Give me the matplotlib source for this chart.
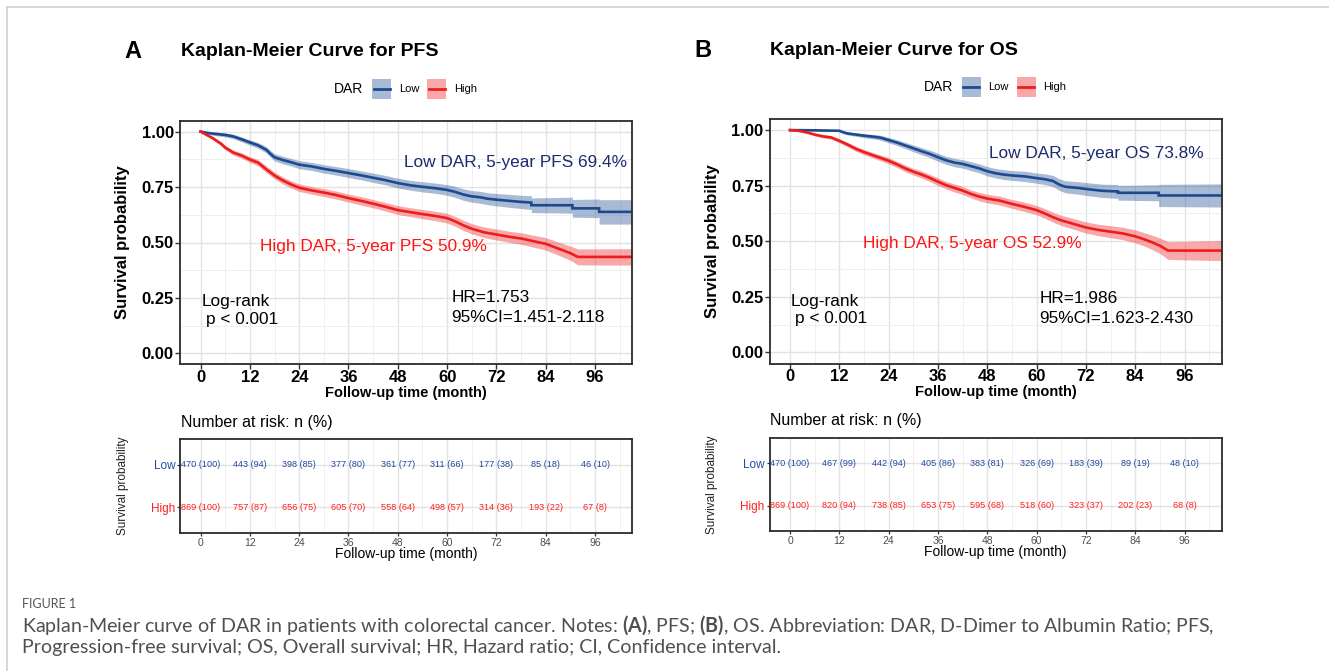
import numpy as np
import matplotlib
matplotlib.use("Agg")
import matplotlib.pyplot as plt
from matplotlib.patches import Rectangle

plt.rcParams['font.family'] = ['Liberation Sans', 'DejaVu Sans']
plt.rcParams['mathtext.fontset'] = 'custom'
plt.rcParams['mathtext.rm'] = 'Lato'
plt.rcParams['mathtext.bf'] = 'Lato:bold'

# ---------------- data ----------------
groups = ['Low', 'High']
x_ticks = [0, 12, 24, 36, 48, 60, 72, 84, 96]
x_tick_labels = ['0', '12', '24', '36', '48', '60', '72', '84', '96']
y_ticks = [0.0, 0.25, 0.5, 0.75, 1.0]
y_tick_labels = ['0.00', '0.25', '0.50', '0.75', '1.00']

pfs_low_t = [0, 2, 4, 6, 8, 10, 12, 14, 16, 17, 18, 20, 22, 24, 27, 30, 33, 36, 39, 42, 45, 48,
             51, 54, 57, 60, 62, 64, 66, 68, 70, 72, 75, 78, 80.5, 80.5, 90.5, 90.5, 97, 97, 105]
pfs_low_s = [1.000, 0.993, 0.989, 0.985, 0.978, 0.965, 0.951, 0.938, 0.918, 0.900, 0.884, 0.872,
             0.862, 0.851, 0.843, 0.832, 0.823, 0.813, 0.803, 0.792, 0.781, 0.768, 0.758, 0.751,
             0.745, 0.737, 0.728, 0.716, 0.708, 0.704, 0.697, 0.693, 0.688, 0.683, 0.680, 0.668,
             0.668, 0.654, 0.654, 0.638, 0.638]
pfs_low_ci = [0, 0.006, 0.008, 0.009, 0.010, 0.011, 0.012, 0.013, 0.014, 0.015, 0.016, 0.017,
              0.017, 0.018, 0.018, 0.019, 0.019, 0.020, 0.020, 0.021, 0.021, 0.022, 0.022, 0.023,
              0.023, 0.024, 0.025, 0.026, 0.026, 0.027, 0.027, 0.028, 0.029, 0.030, 0.031, 0.033,
              0.036, 0.040, 0.042, 0.055, 0.055]

pfs_high_t = [0, 1, 3, 5, 6, 8, 10, 12, 14, 16, 18, 20, 22, 24, 27, 30, 33, 36, 39, 42, 45, 48,
              51, 54, 57, 60, 62, 64, 66, 69, 72, 75, 78, 81, 84, 86, 88, 90, 91.8, 105]
pfs_high_s = [1.000, 0.990, 0.970, 0.945, 0.928, 0.905, 0.892, 0.874, 0.860, 0.830, 0.802, 0.780,
              0.762, 0.747, 0.735, 0.725, 0.714, 0.700, 0.688, 0.675, 0.661, 0.646, 0.637, 0.628,
              0.620, 0.610, 0.595, 0.577, 0.562, 0.546, 0.536, 0.526, 0.518, 0.506, 0.494, 0.480,
              0.466, 0.452, 0.435, 0.435]
pfs_high_ci = [0, 0.004, 0.007, 0.009, 0.010, 0.011, 0.012, 0.013, 0.014, 0.015, 0.015, 0.016,
               0.016, 0.017, 0.017, 0.018, 0.018, 0.018, 0.019, 0.019, 0.019, 0.020, 0.020, 0.021,
               0.021, 0.022, 0.022, 0.023, 0.023, 0.024, 0.025, 0.025, 0.026, 0.027, 0.028, 0.029,
               0.030, 0.032, 0.036, 0.037]

os_low_t = [0, 6, 12, 13, 14, 16, 18, 20, 22, 24, 26, 28, 30, 32, 34, 36, 38, 40, 42, 44, 46, 48,
            50, 52, 54, 57, 60, 62, 64, 65.5, 67, 70, 73, 76, 79.8, 79.8, 89.7, 89.7, 105]
os_low_s = [1.000, 0.999, 0.997, 0.990, 0.985, 0.980, 0.975, 0.971, 0.966, 0.955, 0.944, 0.931,
            0.918, 0.905, 0.893, 0.878, 0.864, 0.854, 0.848, 0.838, 0.828, 0.815, 0.806, 0.800,
            0.796, 0.792, 0.784, 0.779, 0.771, 0.755, 0.745, 0.740, 0.733, 0.727, 0.724, 0.718,
            0.718, 0.706, 0.706]
os_low_ci = [0, 0.002, 0.004, 0.006, 0.007, 0.008, 0.009, 0.010, 0.011, 0.012, 0.013, 0.014,
             0.015, 0.016, 0.017, 0.018, 0.018, 0.019, 0.019, 0.020, 0.020, 0.021, 0.021, 0.022,
             0.022, 0.023, 0.023, 0.024, 0.025, 0.026, 0.027, 0.028, 0.029, 0.030, 0.031, 0.033,
             0.036, 0.050, 0.052]

os_high_t = [0, 2, 4, 6, 8, 10, 12, 14, 16, 18, 20, 22, 24, 26, 28, 30, 32, 34, 36, 38, 40, 42,
             44, 46, 48, 51, 54, 57, 60, 62, 64, 66, 69, 72, 75, 78, 81, 84, 86, 88, 90, 92, 105]
os_high_s = [1.000, 0.997, 0.990, 0.980, 0.972, 0.967, 0.952, 0.935, 0.916, 0.901, 0.888, 0.875,
             0.862, 0.846, 0.828, 0.813, 0.800, 0.785, 0.768, 0.752, 0.740, 0.728, 0.713, 0.701,
             0.692, 0.683, 0.668, 0.655, 0.640, 0.625, 0.608, 0.594, 0.578, 0.562, 0.551, 0.543,
             0.535, 0.522, 0.510, 0.496, 0.480, 0.458, 0.458]
os_high_ci = [0, 0.002, 0.004, 0.006, 0.007, 0.008, 0.009, 0.010, 0.011, 0.012, 0.012, 0.013,
              0.014, 0.014, 0.015, 0.015, 0.016, 0.016, 0.017, 0.017, 0.018, 0.018, 0.018, 0.019,
              0.019, 0.020, 0.020, 0.021, 0.021, 0.022, 0.022, 0.023, 0.024, 0.025, 0.026, 0.027,
              0.028, 0.029, 0.030, 0.032, 0.035, 0.040, 0.045]

risk_times = [0, 12, 24, 36, 48, 60, 72, 84, 96]
pfs_low_n = [470, 443, 398, 377, 361, 311, 177, 85, 46]
pfs_low_pct = [100, 94, 85, 80, 77, 66, 38, 18, 10]
pfs_high_n = [869, 757, 656, 605, 558, 498, 314, 193, 67]
pfs_high_pct = [100, 87, 75, 70, 64, 57, 36, 22, 8]
os_low_n = [470, 467, 442, 405, 383, 326, 183, 89, 48]
os_low_pct = [100, 99, 94, 86, 81, 69, 39, 19, 10]
os_high_n = [869, 820, 738, 653, 595, 518, 323, 202, 68]
os_high_pct = [100, 94, 85, 75, 68, 60, 37, 23, 8]

# ---------------- style ----------------
LOW_LINE = '#1b4a8f'
HIGH_LINE = '#ee1c1c'
LOW_TEXT = '#1c2a6e'
HIGH_TEXT = '#ff1414'
LOW_RISK = '#2349a0'
HIGH_RISK = '#ff2020'
FILL_ALPHA = 0.38
GRID_MAJ = '#e3e3e3'
GRID_MIN = '#efefef'
FRAME = '#2b2b2b'
ANN_FS = 12.4

W, H = 1329, 671
fig = plt.figure(figsize=(W / 100, H / 100), dpi=100)
fig.patch.set_facecolor('white')

ov = fig.add_axes([0, 0, 1, 1])
ov.set_xlim(0, W)
ov.set_ylim(H, 0)
ov.axis('off')
ov.set_autoscale_on(False)


def px_axes(l, t, r, b):
    return fig.add_axes([l / W, 1 - b / H, (r - l) / W, (b - t) / H])


def base_grid(ax):
    ax.set_xlim(-5, 105)
    ax.set_xticks(x_ticks)
    ax.set_xticks(np.arange(6, 103, 12), minor=True)
    ax.grid(True, which='major', color=GRID_MAJ, lw=1.0)
    ax.grid(True, which='minor', color=GRID_MIN, lw=0.7)
    ax.set_axisbelow(True)
    ax.tick_params(which='minor', length=0)
    for sp in ax.spines.values():
        sp.set_color(FRAME)
        sp.set_linewidth(1.3)


def km_panel(frame, curves, letter, title, title_y, letter_x, leg_x, leg_y,
             low_lbl, high_lbl, hr_lines, ylab_x, xlab_y):
    l, t, r, b = frame
    ax = px_axes(l, t, r, b)
    base_grid(ax)
    ax.set_ylim(-0.05, 1.05)
    ax.set_xticklabels(x_tick_labels, fontsize=12, fontweight='bold')
    ax.set_yticks(y_ticks)
    ax.set_yticklabels(y_tick_labels, fontsize=12, fontweight='bold')
    ax.set_yticks(np.arange(0.125, 1.0, 0.25), minor=True)
    ax.tick_params(which='major', length=3.5, width=1.0, color='#333333')
    ax.tick_params(axis='x', which='major', pad=0.8)
    ax.tick_params(axis='y', which='major', pad=1.0)
    for tt, ss, hh, col in curves:
        tt = np.asarray(tt, float); ss = np.asarray(ss, float); hh = np.asarray(hh, float)
        ax.fill_between(tt, ss - hh, ss + hh, color=col, alpha=FILL_ALPHA, lw=0)
    for tt, ss, hh, col in curves:
        ax.plot(tt, ss, color=col, lw=1.9, solid_joinstyle='miter')
    # annotations
    ax.text(low_lbl[0], low_lbl[1], low_lbl[2], color=LOW_TEXT, fontsize=ANN_FS, ha='left', va='center')
    ax.text(high_lbl[0], high_lbl[1], high_lbl[2], color=HIGH_TEXT, fontsize=ANN_FS, ha='left', va='center')
    ax.text(0.2, hr_lines[0], 'Log-rank', fontsize=ANN_FS, ha='left', va='center')
    ax.text(1.3, hr_lines[1], 'p < 0.001', fontsize=ANN_FS, ha='left', va='center')
    ax.text(hr_lines[2], hr_lines[3], hr_lines[4], fontsize=ANN_FS, ha='left', va='center')
    ax.text(hr_lines[2], hr_lines[5], hr_lines[6], fontsize=ANN_FS, ha='left', va='center')
    # titles / labels
    ov.text(letter_x, title_y, letter, fontsize=17, fontweight='bold', ha='center', va='center')
    ov.text(l + 1, title_y, title, fontsize=14, fontweight='bold', ha='left', va='center')
    ov.text(ylab_x, (t + b) / 2, 'Survival probability', fontsize=12, fontweight='bold',
            rotation=90, ha='center', va='center')
    ov.text((l + r) / 2, xlab_y, 'Follow-up time (month)', fontsize=10.5, fontweight='bold',
            ha='center', va='center')
    # legend
    ov.text(leg_x, leg_y, 'DAR', fontsize=10, ha='left', va='center')
    kx = leg_x + 38
    for name, col in zip(groups, [LOW_LINE, HIGH_LINE]):
        ov.add_patch(Rectangle((kx, leg_y - 10), 19, 20, facecolor=col, alpha=FILL_ALPHA,
                               edgecolor='none'))
        ov.plot([kx + 1.5, kx + 17.5], [leg_y, leg_y], color=col, lw=2.0)
        ov.text(kx + 27, leg_y, name, fontsize=8, ha='left', va='center')
        kx += 55
    return ax


def risk_panel(frame, low_n, low_p, high_n, high_p, head_y, ylab_x, xlab_y):
    l, t, r, b = frame
    rk = px_axes(l, t, r, b)
    base_grid(rk)
    rk.set_ylim(0.4, 2.6)
    rk.set_xticklabels(x_tick_labels, fontsize=7.5, color='#4d4d4d')
    rk.set_yticks([2, 1])
    rk.set_yticklabels(groups, fontsize=8.5)
    rk.get_yticklabels()[0].set_color(LOW_RISK)
    rk.get_yticklabels()[1].set_color(HIGH_RISK)
    rk.tick_params(which='major', length=2.5, width=0.9, color='#333333', pad=1.0)
    for x, n, p in zip(risk_times, low_n, low_p):
        rk.text(x, 2, f'{n} ({p})', ha='center', va='center', fontsize=6.6, color=LOW_RISK)
    for x, n, p in zip(risk_times, high_n, high_p):
        rk.text(x, 1, f'{n} ({p})', ha='center', va='center', fontsize=6.6, color=HIGH_RISK)
    ov.text(l + 1, head_y, 'Number at risk: n (%)', fontsize=11.5, ha='left', va='center')
    ov.text(ylab_x, (t + b) / 2, 'Survival probability', fontsize=8.5, rotation=90,
            ha='center', va='center', color='#222222')
    ov.text((l + r) / 2, xlab_y, 'Follow-up time (month)', fontsize=10, ha='center', va='center')
    return rk


km_panel((180, 120.5, 632, 364.5),
         [(pfs_low_t, pfs_low_s, pfs_low_ci, LOW_LINE), (pfs_high_t, pfs_high_s, pfs_high_ci, HIGH_LINE)],
         'A', 'Kaplan-Meier Curve for PFS', 52, 133, 334, 89,
         (49.5, 0.862, 'Low DAR, 5-year PFS 69.4%'), (14.4, 0.484, 'High DAR, 5-year PFS 50.9%'),
         (0.235, 0.155, 61.0, 0.253, 'HR=1.753', 0.160, '95%CI=1.451-2.118'), 123, 393)
km_panel((769.5, 119, 1221.5, 363.5),
         [(os_low_t, os_low_s, os_low_ci, LOW_LINE), (os_high_t, os_high_s, os_high_ci, HIGH_LINE)],
         'B', 'Kaplan-Meier Curve for OS', 50.5, 703, 923.5, 87,
         (48.5, 0.893, 'Low DAR, 5-year OS 73.8%'), (17.8, 0.489, 'High DAR, 5-year OS 52.9%'),
         (0.231, 0.151, 60.7, 0.244, 'HR=1.986', 0.151, '95%CI=1.623-2.430'), 712.5, 392)

risk_panel((180, 439, 632, 533), pfs_low_n, pfs_low_pct, pfs_high_n, pfs_high_pct, 422, 123, 554)
risk_panel((769.5, 438, 1221.5, 531), os_low_n, os_low_pct, os_high_n, os_high_pct, 420, 712.5, 552)

# page border lines
ov.plot([7, 7], [7, H], color='#d0d0d0', lw=1.2)
ov.plot([7, W], [7, 7], color='#d0d0d0', lw=1.2)

# caption
cap_x = 22
ov.text(cap_x, 604, 'FIGURE 1', fontsize=9, family='Lato', color='#555555', ha='left', va='center')
line1 = ('Kaplan-Meier curve of DAR in patients with colorectal cancer. Notes: $\\mathbf{(A)}$, PFS; '
         '$\\mathbf{(B)}$, OS. Abbreviation: DAR, D-Dimer to Albumin Ratio; PFS,')
line2 = 'Progression-free survival; OS, Overall survival; HR, Hazard ratio; CI, Confidence interval.'
c1 = ov.text(cap_x, 625, line1, fontsize=11, family='Lato', color='#505050',
             ha='left', va='center')
c2 = ov.text(cap_x, 647, line2, fontsize=11, family='Lato', color='#505050',
             ha='left', va='center')
fig.canvas.draw()
w1 = c1.get_window_extent().width
fs = 11 * (1213 - cap_x) / w1
c1.set_fontsize(fs)
c2.set_fontsize(fs)

fig.savefig('out.png', dpi=100, facecolor='white')
